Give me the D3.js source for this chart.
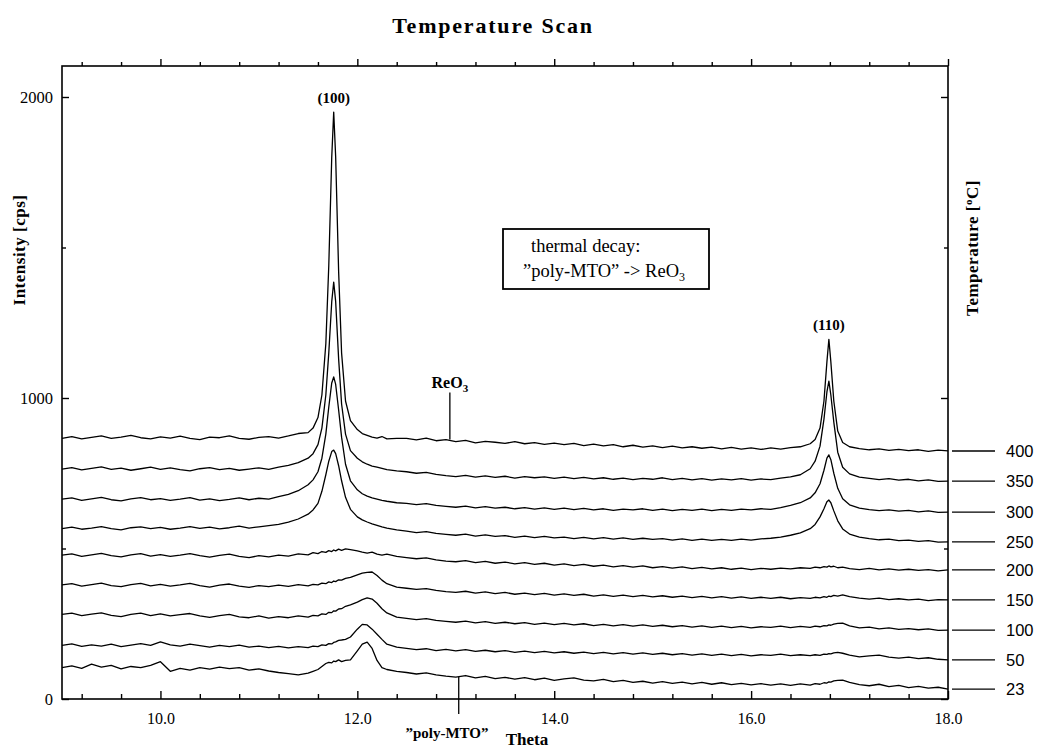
<!DOCTYPE html>
<html>
<head>
<meta charset="utf-8">
<script src="https://cdn.jsdelivr.net/npm/d3@7"></script>
<style>
  body { margin: 0; background: #fff; }
  svg text { font-family: 'Liberation Serif', 'DejaVu Serif', serif; fill: #000; }
</style>
</head>
<body>
<svg id="chart" width="1039" height="749"></svg>
<script>
// sampling positions (theta) shared by every scan
const thetas = [
  9.0, 9.1, 9.2, 9.3, 9.4, 9.5, 9.6, 9.7, 9.8, 9.9, 10.0, 10.1, 10.2, 10.3, 10.4, 10.5, 10.6, 10.7, 10.8, 10.9, 11.0, 11.1, 11.2, 11.3, 11.4,
  11.5, 11.55, 11.6, 11.64, 11.68, 11.71, 11.74, 11.76, 11.78, 11.81, 11.84, 11.88, 11.93, 12.0, 12.05, 12.1, 12.15, 12.2, 12.25, 12.3, 12.4,
  12.5, 12.6, 12.7, 12.8, 12.9, 13.0, 13.1, 13.2, 13.3, 13.4, 13.5, 13.6, 13.7, 13.8, 13.9, 14.0, 14.1, 14.2, 14.3, 14.4, 14.5, 14.6, 14.7, 14.8, 14.9,
  15.0, 15.1, 15.2, 15.3, 15.4, 15.5, 15.6, 15.7, 15.8, 15.9, 16.0, 16.1, 16.2, 16.3, 16.4, 16.5,
  16.6, 16.65, 16.7, 16.74, 16.77, 16.79, 16.81, 16.84, 16.88, 16.93, 17.0,
  17.1, 17.2, 17.3, 17.4, 17.5, 17.6, 17.7, 17.8, 17.9, 18.0
]

// intensities [cps] per temperature, stacked as in the figure
const t400 = [
  866, 872, 864, 869, 874, 866, 870, 876, 868, 864, 871, 867, 873, 866, 862, 870, 868, 874, 866, 863, 869, 872, 867, 874, 882,
  885, 900, 935, 1010, 1180, 1440, 1800, 1950, 1800, 1420, 1150, 990, 925, 895, 882, 876, 870, 867, 872, 864, 866,
  866, 861, 867, 858, 862, 855, 859, 851, 856, 853, 849, 855, 848, 852, 846, 850, 845, 849, 842, 847, 841, 845, 838, 843, 837,
  841, 835, 840, 834, 838, 833, 837, 831, 836, 830, 834, 829, 834, 830, 835, 838,
  848, 862, 900, 990, 1120, 1195, 1120, 990, 890, 852, 838,
  832, 828, 831, 826, 829, 825, 828, 823, 827, 824
]
const t350 = [
  764, 769, 761, 766, 771, 763, 767, 760, 765, 770, 763, 768, 762, 758, 765, 769, 762, 766, 760, 764, 768, 763, 770, 776, 785,
  800, 815, 845, 900, 1010, 1150, 1320, 1385, 1320, 1130, 980, 880, 825, 800, 788, 780, 774, 770, 766, 762, 758,
  755, 750, 753, 746, 742, 739, 743, 737, 741, 736, 740, 734, 739, 735, 738, 733, 737, 732, 736, 731, 735, 730, 734, 729, 733,
  730, 735, 729, 733, 728, 732, 727, 731, 728, 732, 727, 731, 729, 734, 738, 745,
  765, 790, 840, 930, 1020, 1056, 1010, 920, 820, 770, 748,
  737, 733, 729, 732, 727, 730, 725, 728, 723, 724
]
const t300 = [
  664, 668, 660, 665, 670, 662, 658, 665, 669, 662, 666, 660, 664, 669, 661, 665, 659, 663, 668, 662, 667, 664, 672, 680, 692,
  712, 728, 755, 800, 880, 970, 1050, 1070, 1045, 960, 870, 780, 725, 695, 682, 674, 668, 664, 660, 657, 652,
  650, 646, 649, 643, 640, 637, 641, 635, 639, 634, 637, 632, 636, 631, 635, 630, 634, 629, 633, 628, 632, 627, 631, 628, 632,
  627, 631, 626, 630, 627, 631, 626, 630, 627, 631, 628, 632, 630, 636, 643, 652,
  668, 685, 715, 760, 800, 811, 795, 750, 700, 665, 645,
  634, 629, 626, 628, 624, 627, 622, 625, 620, 621
]
const t250 = [
  566, 571, 564, 568, 573, 566, 562, 569, 572, 566, 570, 564, 568, 573, 567, 571, 565, 569, 574, 568, 572, 576, 580, 588, 598,
  614, 628, 650, 690, 745, 790, 822, 827, 815, 775, 725, 670, 630, 605, 595, 588, 582, 577, 572, 568, 562,
  558, 553, 556, 550, 547, 544, 548, 541, 545, 540, 543, 537, 541, 536, 540, 535, 538, 533, 537, 532, 536, 531, 535, 530, 534,
  530, 533, 528, 532, 527, 531, 527, 530, 527, 531, 528, 532, 534, 538, 544, 552,
  566, 580, 605, 632, 655, 661, 652, 625, 592, 565, 548,
  538, 533, 529, 531, 526, 528, 524, 526, 521, 522
]
const t200 = [
  478, 482, 474, 479, 484, 476, 472, 479, 483, 475, 480, 474, 478, 483, 476, 471, 477, 481, 474, 470, 476, 472, 478, 475, 482,
  479, 486, 483, 490, 487, 493, 490, 495, 492, 498, 494, 499, 496, 492, 488, 485, 488, 481, 478, 481, 474,
  470, 466, 469, 462, 458, 456, 460, 453, 457, 451, 455, 449, 453, 447, 451, 445, 449, 443, 447, 441, 445, 439, 443, 438, 442,
  436, 440, 435, 439, 433, 437, 432, 436, 431, 435, 430, 434, 431, 435, 432, 436,
  434, 438, 436, 440, 438, 442, 439, 441, 436, 438, 433,
  430, 434, 429, 432, 428, 431, 427, 430, 426, 429
]
const t150 = [
  379, 383, 375, 380, 385, 377, 373, 380, 384, 376, 381, 375, 379, 384, 377, 372, 378, 382, 375, 371, 377, 373, 378, 374, 380,
  376, 381, 379, 385, 383, 389, 387, 392, 390, 396, 395, 401, 404, 412, 418, 421, 422, 410, 395, 383, 372,
  368, 364, 367, 361, 357, 354, 358, 352, 356, 350, 354, 348, 352, 347, 351, 345, 349, 344, 348, 342, 346, 341, 345, 340, 344,
  339, 343, 338, 342, 337, 341, 336, 340, 335, 339, 334, 338, 334, 338, 333, 337,
  334, 338, 336, 340, 338, 342, 340, 344, 342, 346, 340,
  335, 332, 335, 330, 333, 329, 332, 327, 330, 329
]
const t100 = [
  281, 285, 277, 282, 286, 278, 274, 281, 285, 277, 283, 276, 280, 284, 276, 271, 277, 281, 273, 270, 276, 269, 274, 270, 276,
  272, 278, 276, 283, 281, 288, 287, 293, 292, 299, 300, 308, 313, 322, 330, 336, 332, 318, 300, 286, 272,
  268, 264, 267, 261, 258, 255, 259, 253, 257, 251, 255, 250, 254, 248, 252, 247, 251, 246, 250, 244, 248, 243, 247, 242, 246,
  241, 245, 240, 244, 239, 243, 238, 242, 237, 241, 236, 240, 238, 242, 237, 241,
  238, 242, 240, 244, 243, 246, 245, 249, 251, 252, 243,
  236, 239, 233, 236, 231, 234, 230, 233, 228, 229
]
const t50 = [
  178, 183, 175, 180, 176, 182, 174, 179, 184, 178, 190, 180, 176, 182, 177, 172, 178, 174, 179, 172, 176, 171, 175, 170, 174,
  171, 176, 174, 180, 178, 184, 183, 188, 190, 195, 196, 198, 206, 232, 248, 246, 232, 215, 198, 182, 172,
  168, 164, 167, 161, 165, 160, 164, 158, 162, 157, 161, 155, 159, 154, 158, 153, 157, 152, 156, 151, 155, 150, 154, 149, 153,
  148, 152, 147, 151, 146, 150, 145, 149, 144, 148, 143, 147, 145, 149, 144, 147,
  144, 147, 145, 149, 148, 151, 150, 153, 155, 152, 146,
  140, 143, 146, 139, 136, 139, 134, 137, 132, 130
]
const t23 = [
  104, 110, 102, 116, 106, 112, 100, 108, 104, 112, 124, 92, 102, 96, 104, 99, 106, 101, 104, 96, 100, 93, 88, 84, 80,
  86, 92, 98, 108, 118, 122, 120, 126, 124, 130, 124, 128, 130, 160, 182, 189, 168, 128, 104, 98, 92,
  88, 83, 87, 80, 76, 73, 78, 70, 75, 68, 72, 66, 71, 64, 69, 62, 67, 70, 63, 60, 65, 58, 62, 55, 59,
  53, 58, 52, 56, 50, 55, 49, 54, 48, 52, 47, 51, 46, 50, 45, 50,
  46, 51, 49, 54, 53, 57, 56, 60, 62, 63, 55,
  48, 44, 49, 41, 45, 38, 42, 36, 39, 33
]

const temps = [23, 50, 100, 150, 200, 250, 300, 350, 400]
const scans = [t23, t50, t100, t150, t200, t250, t300, t350, t400]

const xMajor = [10, 12, 14, 16, 18]
const xMinor = [9.2, 9.6, 10.4, 10.8, 11.2, 11.6, 12.4, 12.8, 13.2, 13.6, 14.4, 14.8, 15.2, 15.6, 16.4, 16.8, 17.2, 17.6]
const yMajor = [0, 1000, 2000]
const yMinor = [500, 1500]

// reflection labels: [label, theta, intensity]
const peakLabels = [['(100)', 11.76, 1980], ['(110)', 16.79, 1225]]

const svg = d3.select('#chart')
const plot = { left: 62, right: 948, top: 66, bottom: 699 }

const x = d3.scaleLinear().domain([9, 18]).range([plot.left, plot.right])
const y = d3.scaleLinear().domain([0, 2000]).range([plot.bottom, 97])

// frame
svg.append('rect')
  .attr('x', plot.left).attr('y', plot.top)
  .attr('width', plot.right - plot.left).attr('height', plot.bottom - plot.top)
  .attr('fill', 'none').attr('stroke', '#000').attr('stroke-width', 1.6)

const styleAxis = g => {
  g.select('.domain').remove()
  g.selectAll('line').attr('stroke', '#000').attr('stroke-width', 1.4)
}

svg.append('g')
  .attr('transform', `translate(0,${plot.bottom})`)
  .call(d3.axisBottom(x).tickValues(xMajor).tickSize(-8).tickPadding(14).tickFormat(d3.format('.1f')))
  .call(styleAxis)
  .call(g => g.selectAll('text').attr('font-size', 16).attr('font-family', 'Liberation Serif'))
svg.append('g')
  .attr('transform', `translate(0,${plot.bottom})`)
  .call(d3.axisBottom(x).tickValues(xMinor).tickSize(-5).tickFormat(''))
  .call(styleAxis)

svg.append('g')
  .attr('transform', `translate(0,${plot.top})`)
  .call(d3.axisTop(x).tickValues(xMajor).tickSize(7).tickFormat(''))
  .call(styleAxis)
svg.append('g')
  .attr('transform', `translate(0,${plot.top})`)
  .call(d3.axisTop(x).tickValues(xMinor).tickSize(4).tickFormat(''))
  .call(styleAxis)

svg.append('g')
  .attr('transform', `translate(${plot.left},0)`)
  .call(d3.axisLeft(y).tickValues(yMajor).tickSize(-7).tickPadding(9).tickFormat(d3.format('d')))
  .call(styleAxis)
  .call(g => g.selectAll('text').attr('font-size', 16.5).attr('font-family', 'Liberation Serif'))
svg.append('g')
  .attr('transform', `translate(${plot.left},0)`)
  .call(d3.axisLeft(y).tickValues(yMinor).tickSize(-4).tickFormat(''))
  .call(styleAxis)

svg.append('g')
  .attr('transform', `translate(${plot.right},0)`)
  .call(d3.axisRight(y).tickValues(yMajor).tickSize(-7).tickFormat(''))
  .call(styleAxis)
svg.append('g')
  .attr('transform', `translate(${plot.right},0)`)
  .call(d3.axisRight(y).tickValues(yMinor).tickSize(-4).tickFormat(''))
  .call(styleAxis)

// scans
const line = d3.line()
  .x((d, i) => x(thetas[i]))
  .y(d => y(d))

svg.append('g')
  .selectAll('path')
  .data(scans)
  .join('path')
  .attr('d', line)
  .attr('fill', 'none')
  .attr('stroke', '#000')
  .attr('stroke-width', 1.3)
  .attr('stroke-linejoin', 'round')

// temperature marks on the right
const marks = svg.append('g')
  .selectAll('g')
  .data(scans)
  .join('g')
  .attr('transform', d => `translate(0,${y(d[d.length - 1])})`)
marks.append('line')
  .attr('x1', plot.right + 4).attr('x2', plot.right + 47)
  .attr('stroke', '#000').attr('stroke-width', 1.3)
marks.append('text')
  .attr('x', plot.right + 58)
  .attr('dy', '0.35em')
  .attr('font-size', 16.5)
  .style('font-family', "'Liberation Sans', Arial, sans-serif")
  .text((d, i) => temps[i])

// reflection labels
svg.append('g')
  .selectAll('text')
  .data(peakLabels)
  .join('text')
  .attr('x', d => x(d[1]))
  .attr('y', d => y(d[2]))
  .attr('text-anchor', 'middle')
  .attr('font-size', 15)
  .attr('font-weight', 'bold')
  .text(d => d[0])

// ReO3 marker
svg.append('line')
  .attr('x1', x(12.94)).attr('x2', x(12.94))
  .attr('y1', y(862)).attr('y2', y(1018))
  .attr('stroke', '#000').attr('stroke-width', 1.3)
const reo3 = svg.append('text')
  .attr('x', x(12.94)).attr('y', y(1034))
  .attr('text-anchor', 'middle')
  .attr('font-size', 16)
  .attr('font-weight', 'bold')
reo3.append('tspan').text('ReO')
reo3.append('tspan').attr('font-size', 11).attr('dy', 4).text('3')

// poly-MTO marker
svg.append('line')
  .attr('x1', x(13.03)).attr('x2', x(13.03))
  .attr('y1', y(73)).attr('y2', y(-50))
  .attr('stroke', '#000').attr('stroke-width', 1.3)
svg.append('text')
  .attr('x', 447).attr('y', 738)
  .attr('text-anchor', 'middle')
  .attr('font-size', 15)
  .attr('font-weight', 'bold')
  .text('\u201Dpoly-MTO\u201D')

// note box
svg.append('rect')
  .attr('x', 503).attr('y', 229)
  .attr('width', 206).attr('height', 60)
  .attr('fill', '#fff').attr('stroke', '#000').attr('stroke-width', 1.8)
svg.append('text')
  .attr('x', 531).attr('y', 252)
  .attr('font-size', 18.5)
  .text('thermal decay:')
const note = svg.append('text')
  .attr('x', 523).attr('y', 277)
  .attr('font-size', 18.5)
note.append('tspan').text('\u201Dpoly-MTO\u201D -> ReO')
note.append('tspan').attr('font-size', 12).attr('dy', 4).text('3')

// titles
svg.append('text')
  .attr('x', 493).attr('y', 33)
  .attr('text-anchor', 'middle')
  .attr('font-size', 22)
  .attr('font-weight', 'bold')
  .attr('letter-spacing', 1.8)
  .text('Temperature Scan')

svg.append('text')
  .attr('x', 527).attr('y', 745)
  .attr('text-anchor', 'middle')
  .attr('font-size', 17)
  .attr('font-weight', 'bold')
  .text('Theta')

svg.append('text')
  .attr('transform', 'translate(25,250) rotate(-90)')
  .attr('text-anchor', 'middle')
  .attr('font-size', 17)
  .attr('font-weight', 'bold')
  .attr('letter-spacing', 0.5)
  .text('Intensity [cps]')

const tLabel = svg.append('text')
  .attr('transform', 'translate(978,248) rotate(-90)')
  .attr('text-anchor', 'middle')
  .attr('font-size', 17)
  .attr('font-weight', 'bold')
  .attr('letter-spacing', 0.5)
tLabel.append('tspan').text('Temperature [')
tLabel.append('tspan').attr('font-size', 11).attr('dy', -6).text('o')
tLabel.append('tspan').attr('dy', 6).text('C]')
</script>
</body>
</html>
